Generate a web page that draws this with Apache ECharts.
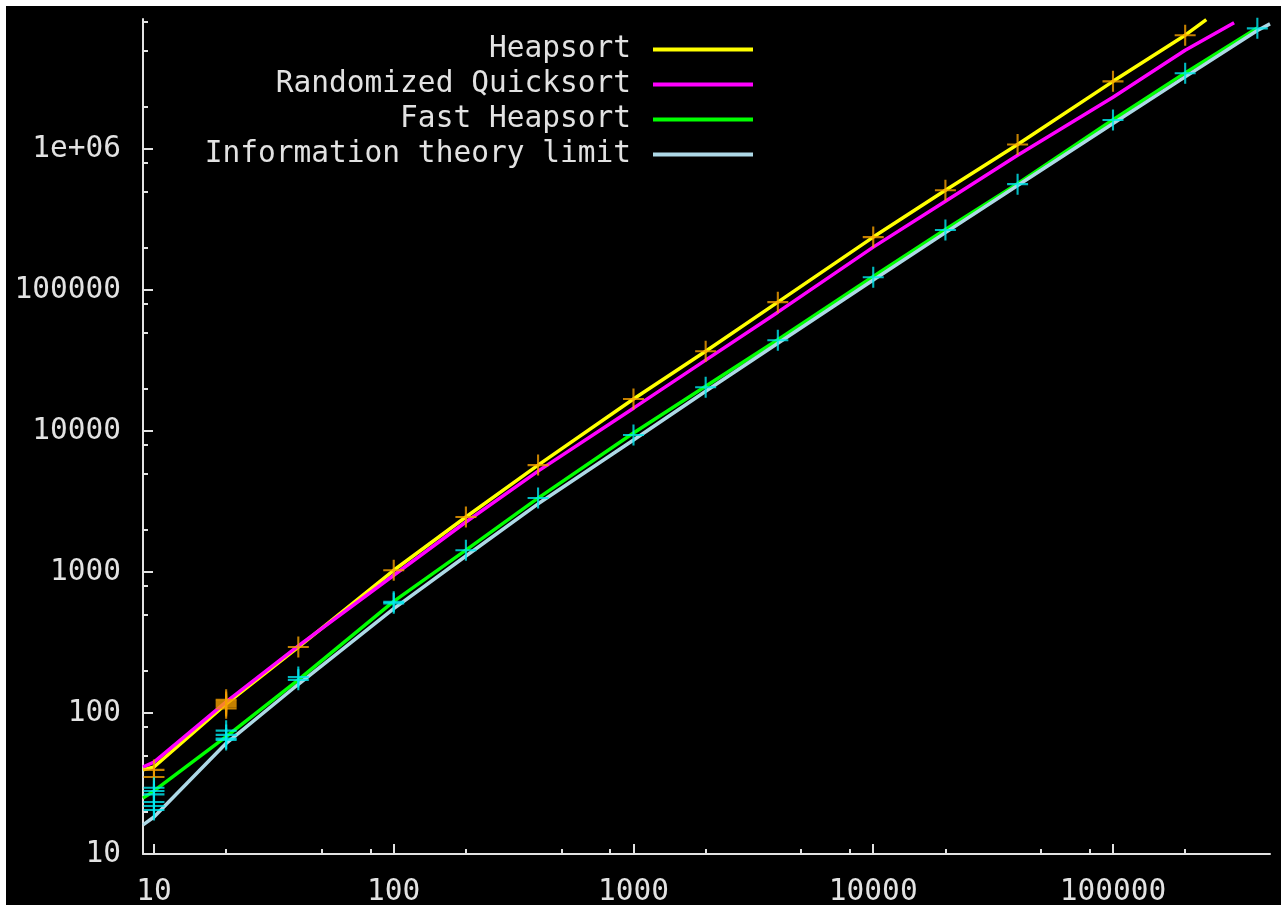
<!DOCTYPE html>
<html>
<head>
<meta charset="utf-8">
<script src="https://cdn.jsdelivr.net/npm/echarts@6/dist/echarts.min.js"></script>
<style>
html,body{margin:0;padding:0;background:#ffffff;}
#c{position:absolute;left:6px;top:6px;width:1275px;height:899px;background:#000;}
</style>
</head>
<body>
<div id="c"></div>
<script>
// ---- data ----
const heapX = [9, 10, 20, 40, 100, 200, 400, 1000, 2000, 4000, 10000, 20000, 40000, 100000, 200000, 245000];
const heapY = [39.5, 41.4, 116, 294, 1030, 2460, 5740, 16900, 36900, 82200, 238000, 512000, 1080000, 3030000, 6440000, 8300000];

const quickX = [9, 10, 20, 40, 100, 200, 400, 1000, 2000, 4000, 10000, 20000, 40000, 100000, 200000, 320000];
const quickY = [41.4, 44.9, 120, 300, 950, 2265, 5200, 14550, 31900, 69800, 202000, 428000, 906000, 2340000, 5040000, 7900000];

const fastX = [9, 10, 20, 40, 100, 200, 400, 1000, 2000, 4000, 10000, 20000, 40000, 100000, 200000, 400000];
const fastY = [24.9, 28, 68, 172, 620, 1430, 3350, 9700, 20800, 44500, 125000, 270000, 570000, 1620000, 3480000, 7250000];

const infoX = [9, 10, 20, 40, 100, 200, 400, 1000, 2000, 4000, 10000, 20000, 40000, 100000, 200000, 400000, 451700];
const infoY = [16.1, 18.3, 61, 160, 550, 1300, 3050, 8650, 19200, 42000, 118000, 256000, 552000, 1520000, 3260000, 6950000, 7750000];

const heapPtsX = [10, 10, 20, 20, 20, 20, 20, 40, 100, 200, 400, 1000, 2000, 4000, 10000, 20000, 40000, 100000, 200000];
const heapPtsY = [35.2, 39.5, 108, 112, 116, 120, 124, 294, 1030, 2460, 5740, 16900, 36900, 82200, 238000, 512000, 1080000, 3030000, 6440000];

const fastPtsX = [10, 10, 10, 10, 10, 10, 20, 20, 20, 20, 40, 40, 100, 100, 200, 400, 1000, 2000, 4000, 10000, 20000, 40000, 100000, 200000, 400000];
const fastPtsY = [26.5, 28, 29.5, 23.4, 21.9, 20.5, 66, 70, 75, 64.5, 172, 180, 600, 615, 1430, 3350, 9380, 20500, 44100, 123600, 267000, 565000, 1610000, 3460000, 7200000];

const seriesNames = ['Heapsort', 'Randomized Quicksort', 'Fast Heapsort', 'Information theory limit'];

const xMajor = [10, 100, 1000, 10000, 100000];
const xMinor = [20, 50, 80, 200, 500, 800, 2000, 5000, 8000, 20000, 50000, 80000, 200000];
const yMajor = [10, 100, 1000, 10000, 100000, 1000000];
const yMinor = [20, 50, 80, 200, 500, 800, 2000, 5000, 8000, 20000, 50000, 80000, 200000, 500000, 800000, 2000000, 5000000, 8000000];

const xMin = 9, xMax = 451700, yMin = 10, yMax = 8388608;

// ---- chart ----
const FONT = 'DejaVu Sans Mono';
const FS = 29.5;
const TXT = '#e2e2e2';
const zip = (xs, ys) => xs.map((x, i) => [x, ys[i]]);
const plus = 'path://M9,0h2v9h9v2h-9v9h-2v-9h-9v-2h9z';
const fmt = v => (v >= 1000000 ? '1e+06' : String(Math.round(v)));

const chart = echarts.init(document.getElementById('c'), null, {renderer: 'canvas'});

const baseAxis = {
  type: 'log', logBase: 10,
  splitLine: {show: false},
  axisLine: {show: true, lineStyle: {color: TXT, width: 2}},
};

chart.setOption({
  backgroundColor: '#000',
  animation: false,
  grid: {left: 137, right: 11, top: 13, bottom: 51, containLabel: false, outerBoundsMode: 'none'},
  legend: {
    orient: 'vertical',
    right: 528, top: 26,
    padding: 0, itemGap: 0,
    align: 'right',
    icon: 'rect', itemWidth: 100, itemHeight: 4,
    data: seriesNames,
    formatter: n => '{a|' + n + '}',
    textStyle: {
      color: TXT, fontFamily: FONT, fontSize: FS,
      rich: {a: {width: 430, align: 'right', lineHeight: 35, height: 35, fontFamily: FONT, fontSize: FS, color: TXT, padding: [0, 17, 0, 0]}}
    },
    selectedMode: false
  },
  xAxis: [
    Object.assign({}, baseAxis, {
      min: xMin, max: xMax, position: 'bottom',
      axisTick: {show: true, inside: true, length: 10, lineStyle: {color: TXT, width: 2}, customValues: xMajor},
      axisLabel: {show: true, color: TXT, fontFamily: FONT, fontSize: FS, margin: 23, customValues: xMajor, formatter: fmt}
    }),
    Object.assign({}, baseAxis, {
      min: xMin, max: xMax, position: 'bottom',
      axisLine: {show: false},
      axisTick: {show: true, inside: true, length: 5, lineStyle: {color: TXT, width: 2}, customValues: xMinor},
      axisLabel: {show: false}
    })
  ],
  yAxis: [
    Object.assign({}, baseAxis, {
      min: yMin, max: yMax, position: 'left',
      axisTick: {show: true, inside: true, length: 10, lineStyle: {color: TXT, width: 2}, customValues: yMajor},
      axisLabel: {show: true, color: TXT, fontFamily: FONT, fontSize: FS, margin: 22, customValues: yMajor, formatter: fmt, padding: [4, 0, 0, 0]}
    }),
    Object.assign({}, baseAxis, {
      min: yMin, max: yMax, position: 'left',
      axisLine: {show: false},
      axisTick: {show: true, inside: true, length: 5, lineStyle: {color: TXT, width: 2}, customValues: yMinor},
      axisLabel: {show: false}
    })
  ],
  series: [
    {name: seriesNames[0], type: 'line', data: zip(heapX, heapY), showSymbol: false, clip: true, color: '#ffff00', lineStyle: {width: 3.5, color: '#ffff00'}},
    {name: seriesNames[1], type: 'line', data: zip(quickX, quickY), showSymbol: false, clip: true, color: '#ff00ff', lineStyle: {width: 3.5, color: '#ff00ff'}},
    {name: seriesNames[2], type: 'line', data: zip(fastX, fastY), showSymbol: false, clip: true, color: '#00ff00', lineStyle: {width: 3.5, color: '#00ff00'}},
    {name: seriesNames[3], type: 'line', data: zip(infoX, infoY), showSymbol: false, clip: true, color: '#add8e6', lineStyle: {width: 3.5, color: '#add8e6'}},
    {name: 'heap points', type: 'scatter', data: zip(heapPtsX, heapPtsY), symbol: plus, symbolSize: 21, itemStyle: {color: '#f5a000'}, z: 5},
    {name: 'fast points', type: 'scatter', data: zip(fastPtsX, fastPtsY), symbol: plus, symbolSize: 21, itemStyle: {color: '#00e8f0'}, z: 5}
  ]
});
</script>
</body>
</html>
